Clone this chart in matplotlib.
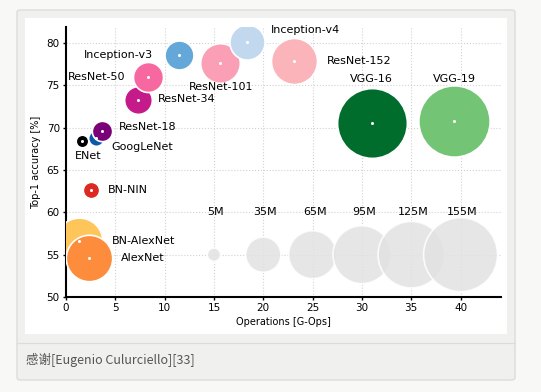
import numpy as np
import matplotlib
matplotlib.use("Agg")
import matplotlib.pyplot as plt
from matplotlib.patches import FancyBboxPatch, Rectangle

# 网络：名称、运算量(G-Ops)、Top-1精度(%)、参数量(M)、颜色
names = ["BN-AlexNet", "AlexNet", "BN-NIN", "ENet", "GoogLeNet", "ResNet-18",
         "ResNet-34", "ResNet-50", "Inception-v3", "ResNet-101", "Inception-v4",
         "ResNet-152", "VGG-16", "VGG-19"]
ops = [1.3, 2.3, 2.5, 1.6, 3.0, 3.6, 7.3, 8.3, 11.5, 15.6, 18.4, 23.1, 31.0, 39.3]
acc = [56.6, 54.6, 62.6, 68.4, 68.8, 69.6, 73.3, 76.0, 78.6, 77.6, 80.1, 77.9, 70.6, 70.8]
params = [62, 61, 7.6, 4.5, 7, 11.7, 21.8, 25.6, 23.8, 44.5, 35, 60, 138, 144]
colors = ["#fec55a", "#fd8d3c", "#dc2a22", "#000000", "#0a5ba6", "#7a0177",
          "#c51b8a", "#f768a1", "#63a8d8", "#fa9fb5", "#c2d8ee",
          "#fbb4b9", "#006d2c", "#74c476"]

# 标签位置与对齐
label_x = [4.7, 5.6, 4.2, 2.3, 4.6, 5.4, 9.3, 6.0, 8.8, 15.7, 20.8, 26.4, 31.0, 39.4]
label_y = [56.6, 54.6, 62.6, 66.6, 67.7, 70.1, 73.4, 76.0, 78.6, 74.8, 81.5, 77.9, 75.7, 75.8]
label_ha = ["left", "left", "left", "center", "left", "left", "left", "right",
            "right", "center", "left", "left", "center", "center"]

# 参考气泡（参数量图例）
ref_params = [5, 35, 65, 95, 125, 155]
ref_x = [15, 20, 25, 30, 35, 40]
ref_y = 55
ref_labels = ["5M", "35M", "65M", "95M", "125M", "155M"]

W, H = 541, 392
scale = 18.3  # 每百万参数对应的点面积

fig = plt.figure(figsize=(W / 100, H / 100), dpi=100)
fig.patch.set_facecolor("#f8f8f6")

def box(x0, y0, x1, y1):
    return (x0 / W, 1 - y1 / H, (x1 - x0) / W, (y1 - y0) / H)

# 外框卡片
x, y, w, h = box(17, 10, 515, 380)
fig.patches.append(FancyBboxPatch((x, y), w, h, boxstyle="round,pad=0,rounding_size=0.006",
                                  transform=fig.transFigure, facecolor="#f0f1ef",
                                  edgecolor="#dcdcda", linewidth=1.0, zorder=-2))
# 白色图片区域
x, y, w, h = box(25, 18, 507, 334)
fig.patches.append(Rectangle((x, y), w, h, transform=fig.transFigure,
                             facecolor="white", edgecolor="none", zorder=-1))
# 分隔线
fig.add_artist(plt.Line2D([17 / W, 515 / W], [1 - 343 / H, 1 - 343 / H],
                          transform=fig.transFigure, color="#dcdcda", lw=0.8, zorder=-1))

ax = fig.add_axes([66 / W, 1 - 297 / H, (501 - 66) / W, (297 - 27) / H])
ax.set_zorder(1)
ax.set_facecolor("none")
ax.set_xlim(0, 44.1)
ax.set_ylim(50, 81.9)

ax.grid(True, linestyle=":", color="#d2d2d2", linewidth=0.8)
ax.set_axisbelow(True)
ax.set_xticks(range(0, 45, 5))
ax.set_yticks(range(50, 81, 5))

for s in ["top", "right"]:
    ax.spines[s].set_visible(False)
for s in ["left", "bottom"]:
    ax.spines[s].set_linewidth(1.5)
ax.tick_params(labelsize=7.5, length=2.5, width=1, pad=2)

# 参考气泡
ax.scatter(ref_x, [ref_y] * len(ref_x), s=np.array(ref_params) * scale,
           color="#e2e2e2", alpha=0.85, edgecolors="white", linewidths=1.2, zorder=2)
for rx, lab in zip(ref_x, ref_labels):
    ax.text(rx + 0.2, 60.0, lab, ha="center", va="center", fontsize=8, zorder=4)

# 网络气泡
for i in range(len(names)):
    ax.scatter(ops[i], acc[i], s=params[i] * scale, color=colors[i],
               edgecolors="white", linewidths=1.2, zorder=3)
    ax.plot(ops[i], acc[i], "o", color="white", markersize=2.2, markeredgewidth=0, zorder=3.5)
    ax.text(label_x[i], label_y[i], names[i], ha=label_ha[i], va="center",
            fontsize=8, zorder=4)

ax.set_xlabel("Operations [G-Ops]", fontsize=7, labelpad=3)
ax.set_ylabel("Top-1 accuracy [%]", fontsize=7, labelpad=4)

fig.text(26 / W, 1 - 360 / H, "感谢[Eugenio Culurciello][33]", fontsize=9,
         color="#555555", va="center", ha="left",
         family=["Noto Sans CJK SC", "DejaVu Sans"])

fig.savefig("out.png", dpi=100, facecolor=fig.get_facecolor())
